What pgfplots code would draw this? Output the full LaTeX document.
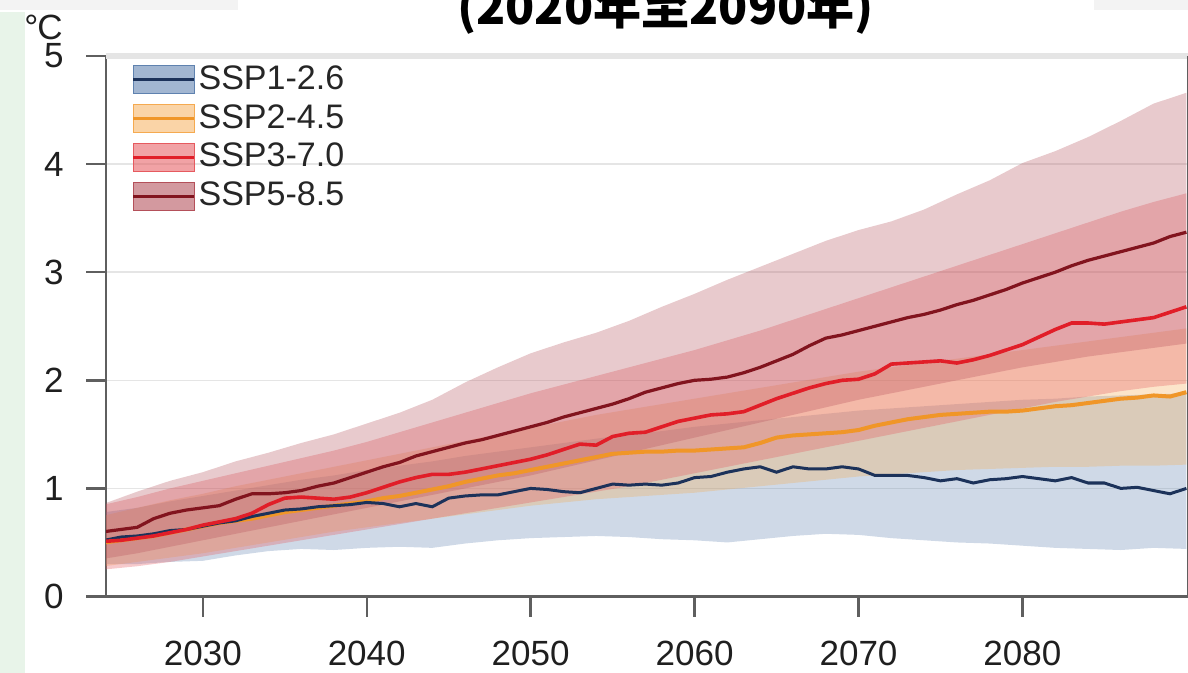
\documentclass[border=0pt]{standalone}
\usepackage{fontspec}
\setmainfont{Liberation Sans}
\newfontfamily\cjk{Noto Sans CJK TC}
\usepackage{pgfplots}
\pgfplotsset{compat=1.18}
\usepackage{pgfplotstable}
\usepgfplotslibrary{fillbetween}

\definecolor{sspOneLine}{RGB}{28,50,90}
\definecolor{sspOneFill}{RGB}{95,130,175}
\definecolor{sspTwoLine}{RGB}{240,150,40}
\definecolor{sspTwoFill}{RGB}{245,170,80}
\definecolor{sspThreeLine}{RGB}{225,30,40}
\definecolor{sspThreeFill}{RGB}{230,90,95}
\definecolor{sspFiveLine}{RGB}{130,20,30}
\definecolor{sspFiveFill}{RGB}{180,80,90}
\definecolor{axisgray}{RGB}{95,95,95}
\definecolor{slidegreen}{RGB}{232,244,233}
\definecolor{topgray}{RGB}{243,243,243}

% ---- multi-model medians (deg C) ----
\pgfplotstableread{
year t
2024 0.52
2025 0.55
2026 0.56
2027 0.58
2028 0.61
2029 0.62
2030 0.65
2031 0.68
2032 0.70
2033 0.74
2034 0.77
2035 0.80
2036 0.81
2037 0.83
2038 0.84
2039 0.85
2040 0.87
2041 0.86
2042 0.83
2043 0.86
2044 0.83
2045 0.91
2046 0.93
2047 0.94
2048 0.94
2049 0.97
2050 1.00
2051 0.99
2052 0.97
2053 0.96
2054 1.00
2055 1.04
2056 1.03
2057 1.04
2058 1.03
2059 1.05
2060 1.10
2061 1.11
2062 1.15
2063 1.18
2064 1.20
2065 1.15
2066 1.20
2067 1.18
2068 1.18
2069 1.20
2070 1.18
2071 1.12
2072 1.12
2073 1.12
2074 1.10
2075 1.07
2076 1.09
2077 1.05
2078 1.08
2079 1.09
2080 1.11
2081 1.09
2082 1.07
2083 1.10
2084 1.05
2085 1.05
2086 1.00
2087 1.01
2088 0.98
2089 0.95
2090 1.00
}\sspOneMed

\pgfplotstableread{
year t
2024 0.50
2025 0.52
2026 0.54
2027 0.56
2028 0.59
2029 0.62
2030 0.65
2031 0.68
2032 0.70
2033 0.72
2034 0.75
2035 0.78
2036 0.80
2037 0.82
2038 0.84
2039 0.86
2040 0.88
2041 0.91
2042 0.93
2043 0.96
2044 0.99
2045 1.02
2046 1.06
2047 1.09
2048 1.12
2049 1.14
2050 1.17
2051 1.20
2052 1.23
2053 1.26
2054 1.29
2055 1.32
2056 1.33
2057 1.34
2058 1.34
2059 1.35
2060 1.35
2061 1.36
2062 1.37
2063 1.38
2064 1.42
2065 1.47
2066 1.49
2067 1.50
2068 1.51
2069 1.52
2070 1.54
2071 1.58
2072 1.61
2073 1.64
2074 1.66
2075 1.68
2076 1.69
2077 1.70
2078 1.71
2079 1.71
2080 1.72
2081 1.74
2082 1.76
2083 1.77
2084 1.79
2085 1.81
2086 1.83
2087 1.84
2088 1.86
2089 1.85
2090 1.89
}\sspTwoMed

\pgfplotstableread{
year t
2024 0.51
2025 0.52
2026 0.54
2027 0.56
2028 0.59
2029 0.62
2030 0.66
2031 0.69
2032 0.72
2033 0.77
2034 0.85
2035 0.91
2036 0.92
2037 0.91
2038 0.90
2039 0.92
2040 0.96
2041 1.01
2042 1.06
2043 1.10
2044 1.13
2045 1.13
2046 1.15
2047 1.18
2048 1.21
2049 1.24
2050 1.27
2051 1.31
2052 1.36
2053 1.41
2054 1.40
2055 1.48
2056 1.51
2057 1.52
2058 1.57
2059 1.62
2060 1.65
2061 1.68
2062 1.69
2063 1.71
2064 1.77
2065 1.83
2066 1.88
2067 1.93
2068 1.97
2069 2.00
2070 2.01
2071 2.06
2072 2.15
2073 2.16
2074 2.17
2075 2.18
2076 2.16
2077 2.19
2078 2.23
2079 2.28
2080 2.33
2081 2.40
2082 2.47
2083 2.53
2084 2.53
2085 2.52
2086 2.54
2087 2.56
2088 2.58
2089 2.63
2090 2.68
}\sspThreeMed

\pgfplotstableread{
year t
2024 0.60
2025 0.62
2026 0.64
2027 0.72
2028 0.77
2029 0.80
2030 0.82
2031 0.84
2032 0.90
2033 0.95
2034 0.95
2035 0.96
2036 0.98
2037 1.02
2038 1.05
2039 1.10
2040 1.15
2041 1.20
2042 1.24
2043 1.30
2044 1.34
2045 1.38
2046 1.42
2047 1.45
2048 1.49
2049 1.53
2050 1.57
2051 1.61
2052 1.66
2053 1.70
2054 1.74
2055 1.78
2056 1.83
2057 1.89
2058 1.93
2059 1.97
2060 2.00
2061 2.01
2062 2.03
2063 2.07
2064 2.12
2065 2.18
2066 2.24
2067 2.32
2068 2.39
2069 2.42
2070 2.46
2071 2.50
2072 2.54
2073 2.58
2074 2.61
2075 2.65
2076 2.70
2077 2.74
2078 2.79
2079 2.84
2080 2.90
2081 2.95
2082 3.00
2083 3.06
2084 3.11
2085 3.15
2086 3.19
2087 3.23
2088 3.27
2089 3.33
2090 3.37
}\sspFiveMed

% ---- very likely ranges (deg C) ----
\pgfplotstableread{
year lo hi
2024 0.30 0.78
2026 0.30 0.82
2028 0.32 0.88
2030 0.33 0.93
2032 0.38 0.98
2034 0.42 1.03
2036 0.44 1.08
2038 0.43 1.12
2040 0.45 1.17
2042 0.46 1.21
2044 0.45 1.25
2046 0.49 1.30
2048 0.52 1.34
2050 0.54 1.38
2052 0.55 1.42
2054 0.56 1.46
2056 0.55 1.50
2058 0.53 1.53
2060 0.52 1.57
2062 0.50 1.60
2064 0.53 1.63
2066 0.56 1.66
2068 0.58 1.69
2070 0.57 1.72
2072 0.54 1.74
2074 0.52 1.76
2076 0.50 1.78
2078 0.49 1.80
2080 0.47 1.82
2082 0.45 1.83
2084 0.44 1.85
2086 0.43 1.86
2088 0.45 1.87
2090 0.44 1.88
}\sspOneBand

\pgfplotstableread{
year lo hi
2024 0.28 0.75
2026 0.32 0.82
2028 0.36 0.89
2030 0.40 0.95
2032 0.45 1.02
2034 0.50 1.08
2036 0.55 1.14
2038 0.60 1.20
2040 0.64 1.26
2042 0.68 1.32
2044 0.72 1.38
2046 0.76 1.44
2048 0.80 1.50
2050 0.84 1.56
2052 0.87 1.62
2054 0.90 1.68
2056 0.92 1.73
2058 0.94 1.78
2060 0.96 1.83
2062 0.99 1.88
2064 1.02 1.93
2066 1.05 1.98
2068 1.08 2.03
2070 1.11 2.08
2072 1.13 2.12
2074 1.15 2.16
2076 1.17 2.20
2078 1.18 2.24
2080 1.19 2.28
2082 1.20 2.32
2084 1.20 2.36
2086 1.21 2.40
2088 1.21 2.44
2090 1.22 2.48
}\sspTwoBand

\pgfplotstableread{
year lo hi
2024 0.25 0.85
2026 0.28 0.92
2028 0.32 1.00
2030 0.37 1.07
2032 0.42 1.14
2034 0.47 1.21
2036 0.52 1.28
2038 0.57 1.35
2040 0.62 1.43
2042 0.67 1.52
2044 0.72 1.61
2046 0.77 1.70
2048 0.82 1.79
2050 0.87 1.88
2052 0.92 1.96
2054 0.97 2.04
2056 1.02 2.12
2058 1.08 2.20
2060 1.14 2.28
2062 1.20 2.37
2064 1.26 2.46
2066 1.32 2.56
2068 1.38 2.66
2070 1.44 2.76
2072 1.50 2.86
2074 1.56 2.96
2076 1.62 3.06
2078 1.68 3.16
2080 1.74 3.26
2082 1.80 3.36
2084 1.85 3.46
2086 1.90 3.56
2088 1.94 3.65
2090 1.97 3.73
}\sspThreeBand

\pgfplotstableread{
year lo hi
2024 0.35 0.86
2026 0.40 0.97
2028 0.46 1.07
2030 0.52 1.15
2032 0.58 1.25
2034 0.64 1.33
2036 0.70 1.42
2038 0.76 1.50
2040 0.82 1.60
2042 0.88 1.70
2044 0.94 1.82
2046 1.00 1.98
2048 1.06 2.12
2050 1.12 2.25
2052 1.19 2.35
2054 1.26 2.44
2056 1.33 2.55
2058 1.40 2.68
2060 1.47 2.80
2062 1.54 2.93
2064 1.61 3.05
2066 1.68 3.17
2068 1.75 3.29
2070 1.82 3.39
2072 1.88 3.47
2074 1.94 3.58
2076 2.00 3.72
2078 2.06 3.85
2080 2.12 4.01
2082 2.17 4.12
2084 2.22 4.25
2086 2.26 4.40
2088 2.30 4.56
2090 2.34 4.66
}\sspFiveBand

\newcommand{\labelfont}{\fontsize{17.5}{17.5}\selectfont}

\begin{document}
\begin{tikzpicture}
% slide background pieces
\fill[slidegreen] (-53pt,-38pt) rectangle (-40.5pt,292pt);
\fill[topgray] (-53pt,298pt) rectangle (66pt,293pt);
\fill[topgray] (493.5pt,298pt) rectangle (540.5pt,293pt);

\begin{axis}[
  name=ax,
  at={(0pt,0pt)}, anchor=south west,
  scale only axis, width=540.5pt, height=270pt,
  xmin=2024.1, xmax=2090.1, ymin=0, ymax=5,
  xtick={2030,2040,2050,2060,2070,2080},
  ytick={0,1,2,3,4,5},
  axis x line*=bottom, axis y line*=left,
  axis line style={-, draw=axisgray, line width=1.2pt},
  tick align=outside, major tick length=10pt,
  tick style={draw=axisgray, line width=1.2pt},
  ymajorgrids, major grid style={draw=black!10, line width=0.8pt},
  /pgf/number format/assume math mode=true,
  ticklabel style={font=\labelfont, text=black!88},
  xticklabel style={/pgf/number format/1000 sep={}, anchor=north, inner sep=0pt, yshift=-12pt},
  yticklabel style={anchor=east, inner sep=0pt, xshift=-11pt},
  legend style={at={(0,1)}, anchor=north west, xshift=12.5pt, yshift=-4.5pt,
    draw=none, fill=none, inner sep=0pt, row sep=5pt,
    font=\fontsize{17}{17}\selectfont, text=black!85,
    nodes={inner sep=0pt},
    /tikz/every odd column/.append style={column sep=1.5pt}},
  legend cell align=left,
]
% legend keys: band patch with median line
\addlegendimage{legend image code/.code={
  \fill[sspOneFill, fill opacity=0.58] (0pt,-7.5pt) rectangle (30.5pt,6.5pt);
  \draw[sspOneLine, line width=1.5pt] (0pt,-0.5pt) -- (30.5pt,-0.5pt);}}
\addlegendentry{SSP1-2.6}
\addlegendimage{legend image code/.code={
  \fill[sspTwoFill, fill opacity=0.5] (0pt,-7.5pt) rectangle (30.5pt,6.5pt);
  \draw[sspTwoLine, line width=1.5pt] (0pt,-0.5pt) -- (30.5pt,-0.5pt);}}
\addlegendentry{SSP2-4.5}
\addlegendimage{legend image code/.code={
  \fill[sspThreeFill, fill opacity=0.56] (0pt,-7.5pt) rectangle (30.5pt,6.5pt);
  \draw[sspThreeLine, line width=1.5pt] (0pt,-0.5pt) -- (30.5pt,-0.5pt);}}
\addlegendentry{SSP3-7.0}
\addlegendimage{legend image code/.code={
  \fill[sspFiveFill, fill opacity=0.58] (0pt,-7.5pt) rectangle (30.5pt,6.5pt);
  \draw[sspFiveLine, line width=1.5pt] (0pt,-0.5pt) -- (30.5pt,-0.5pt);}}
\addlegendentry{SSP5-8.5}

% uncertainty bands
\addplot[name path=oneLo, draw=none, forget plot] table[x=year, y=lo] {\sspOneBand};
\addplot[name path=oneHi, draw=none, forget plot] table[x=year, y=hi] {\sspOneBand};
\addplot[sspOneFill, fill opacity=0.3, draw=none, forget plot] fill between[of=oneLo and oneHi];

\addplot[name path=twoLo, draw=none, forget plot] table[x=year, y=lo] {\sspTwoBand};
\addplot[name path=twoHi, draw=none, forget plot] table[x=year, y=hi] {\sspTwoBand};
\addplot[sspTwoFill, fill opacity=0.3, draw=none, forget plot] fill between[of=twoLo and twoHi];

\addplot[name path=threeLo, draw=none, forget plot] table[x=year, y=lo] {\sspThreeBand};
\addplot[name path=threeHi, draw=none, forget plot] table[x=year, y=hi] {\sspThreeBand};
\addplot[sspThreeFill, fill opacity=0.32, draw=none, forget plot] fill between[of=threeLo and threeHi];

\addplot[name path=fiveLo, draw=none, forget plot] table[x=year, y=lo] {\sspFiveBand};
\addplot[name path=fiveHi, draw=none, forget plot] table[x=year, y=hi] {\sspFiveBand};
\addplot[sspFiveFill, fill opacity=0.3, draw=none, forget plot] fill between[of=fiveLo and fiveHi];

% medians
\addplot[sspTwoLine, line width=2pt, forget plot] table[x=year, y=t] {\sspTwoMed};
\addplot[sspOneLine, line width=1.5pt, forget plot] table[x=year, y=t] {\sspOneMed};
\addplot[sspThreeLine, line width=1.8pt, forget plot] table[x=year, y=t] {\sspThreeMed};
\addplot[sspFiveLine, line width=1.6pt, forget plot] table[x=year, y=t] {\sspFiveMed};
\end{axis}

% top rule and right frame
\draw[black!10, line width=3pt] (ax.north west) -- (ax.north east);
\draw[axisgray, line width=1.2pt] (ax.south east) -- (ax.north east);

\node[anchor=base, font=\cjk\bfseries\fontsize{24}{24}\selectfont, inner sep=0pt]
  at (279.5pt,286pt) {(2020年至2090年)};
\node[anchor=base west, inner sep=0pt, font=\labelfont, text=black!88]
  at (-41pt,278.5pt) {°\kern-0.5pt C};

% page extent
\pgfresetboundingbox
\useasboundingbox (-53pt,-38pt) rectangle (540.5pt,298pt);
\end{tikzpicture}
\end{document}
